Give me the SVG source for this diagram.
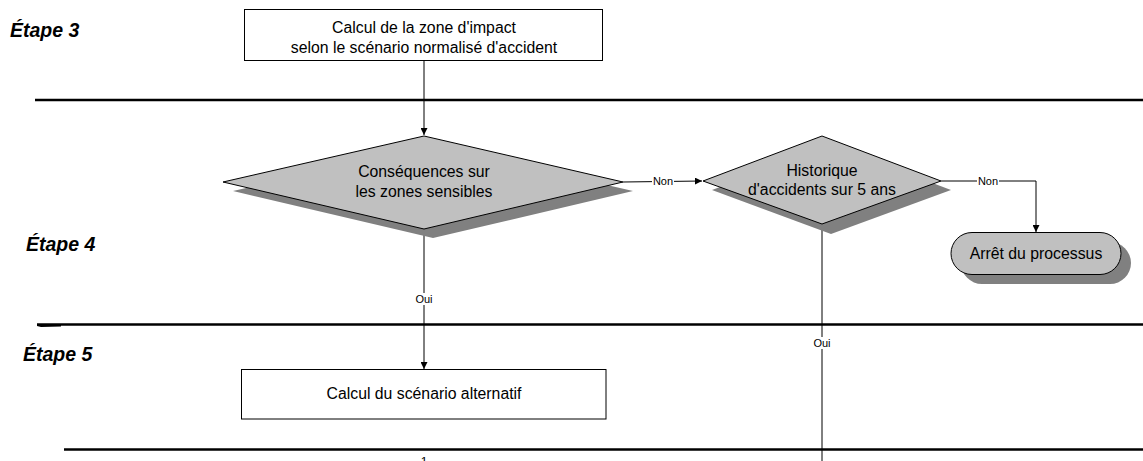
<svg xmlns="http://www.w3.org/2000/svg" width="1143" height="461" viewBox="0 0 1143 461">
<defs>
<marker id="arr" viewBox="0 0 10 10" refX="10" refY="5" markerWidth="7" markerHeight="7" markerUnits="userSpaceOnUse" orient="auto"><path d="M0,0 L10,5 L0,10 z" fill="#000"/></marker>
</defs>
<style>
.t{font-family:"Liberation Sans",Arial,sans-serif;font-size:15.8px;fill:#000;text-anchor:middle}
.step{font-family:"Liberation Sans",Arial,sans-serif;font-size:19.5px;font-weight:bold;font-style:italic;fill:#000}
.lbl{font-family:"Liberation Sans",Arial,sans-serif;font-size:11px;text-anchor:middle;fill:#000}
.sep{stroke:#000;stroke-width:2.6;fill:none}
.box{fill:#fff;stroke:#000;stroke-width:1}
.dia{fill:#c0c0c0;stroke:#000;stroke-width:1}
.sh{fill:#808080}
.c{stroke:#000;stroke-width:1;fill:none}
.bg{fill:#fff}
</style>
<rect width="1143" height="461" fill="#fff"/>

<g id="separators">
<line class="sep" x1="35" y1="100" x2="1143" y2="100"/>
<line class="sep" x1="37" y1="324.5" x2="1143" y2="324.5"/>
<polygon points="37,324 61,324 61,326.5 41,327 37,326" fill="#000"/>
<line class="sep" x1="64" y1="449.5" x2="1143" y2="449.5"/>
</g>

<g id="steps">
<text class="step" x="10" y="37">Étape 3</text>
<text class="step" x="26" y="251">Étape 4</text>
<text class="step" x="23" y="361">Étape 5</text>
</g>

<g id="connectors">
<line class="c" x1="424" y1="60" x2="424" y2="135" marker-end="url(#arr)"/>
<line class="c" x1="424" y1="229" x2="424" y2="369" marker-end="url(#arr)"/>
<rect class="bg" x="414" y="293" width="20" height="12"/>
<text class="lbl" x="424" y="303">Oui</text>
<line class="c" x1="623" y1="182" x2="702" y2="181" marker-end="url(#arr)"/>
<rect class="bg" x="652" y="175" width="22" height="12"/>
<text class="lbl" x="663" y="185">Non</text>
<polyline class="c" points="941,181 1036,181 1036,232" marker-end="url(#arr)"/>
<rect class="bg" x="977" y="175" width="22" height="12"/>
<text class="lbl" x="988" y="185">Non</text>
<line class="c" x1="822" y1="224" x2="822" y2="461"/>
<rect class="bg" x="812" y="337" width="20" height="12"/>
<text class="lbl" x="822" y="347">Oui</text>
<text class="lbl" x="424" y="466" style="font-size:12px">1</text>
</g>

<g id="node-calcul-zone">
<rect class="box" x="244.5" y="9.5" width="358" height="51"/>
<text class="t" x="424" y="33">Calcul de la zone d'impact</text>
<text class="t" x="424" y="53">selon le scénario normalisé d'accident</text>
</g>

<g id="node-consequences">
<polygon class="sh" points="433,145 633,191 433,238 233,191"/>
<polygon class="dia" points="424,136 623,182 424,229 223,182"/>
<text class="t" x="424" y="177">Conséquences sur</text>
<text class="t" x="424" y="197">les zones sensibles</text>
</g>

<g id="node-historique">
<polygon class="sh" points="832,145 951,190 831,234 712,190"/>
<polygon class="dia" points="822,136 941,181 822,224 703,181"/>
<text class="t" x="822" y="175.5">Historique</text>
<text class="t" x="822" y="195">d'accidents sur 5 ans</text>
</g>

<g id="node-arret">
<rect class="sh" x="961" y="242" width="170" height="42" rx="21" ry="21"/>
<rect class="dia" x="951" y="232.5" width="170" height="42" rx="21" ry="21"/>
<text class="t" x="1036" y="258.5">Arrêt du processus</text>
</g>

<g id="node-calcul-alternatif">
<rect class="box" x="241.5" y="369.5" width="364.5" height="49.5"/>
<text class="t" x="424" y="398.5">Calcul du scénario alternatif</text>
</g>
</svg>
